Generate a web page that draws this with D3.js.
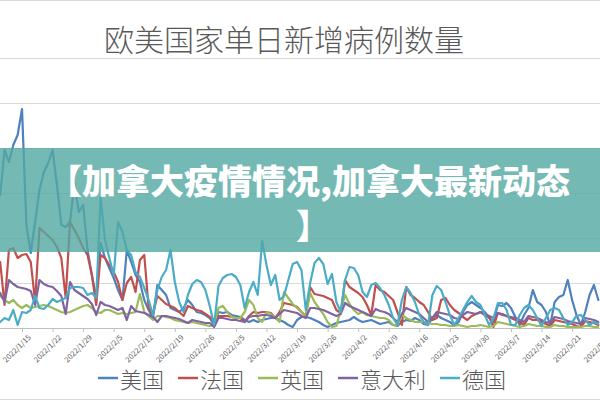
<!DOCTYPE html>
<html><head><meta charset="utf-8">
<script src="https://cdn.jsdelivr.net/npm/d3@7"></script>
<style>html,body{margin:0;padding:0;background:#fff;} svg{display:block;}</style>
</head><body>
<svg id="chart" width="600" height="400"></svg>
<script>
const chartTitle = "欧美国家单日新增病例数量";
const bannerLines = ["【加拿大疫情情况,加拿大最新动态", "】"];
const seriesNames = ["美国", "法国", "英国", "意大利", "德国"];
const seriesColors = ["#4F81BD", "#C0504D", "#9BBB59", "#8064A2", "#4BACC6"];
const startDate = "2022-01-10";
const tickLabels = ["2022/1/15","2022/1/22","2022/1/29","2022/2/5","2022/2/12","2022/2/19","2022/2/26","2022/3/5","2022/3/12","2022/3/19","2022/3/26","2022/4/2","2022/4/9","2022/4/16","2022/4/23","2022/4/30","2022/5/7","2022/5/14","2022/5/21","2022/5/28"];
const yTickValues = [0, 225, 450, 675, 900, 1125, 1350];

// daily new cases (thousands)
const usValues = [665,890,830,915,965,1095,515,375,530,690,780,825,890,715,515,505,530,725,580,615,390,265,150,425,350,300,250,190,140,390,330,265,230,140,90,50,215,190,165,100,90,80,100,140,115,80,75,65,50,15,80,75,80,65,60,55,40,30,40,30,40,45,50,50,40,30,15,5,40,55,55,50,40,30,15,5,15,25,30,35,40,55,40,30,35,40,30,20,25,30,15,10,30,40,35,50,40,20,15,50,65,50,40,30,15,30,80,115,130,115,100,80,50,30,115,110,125,100,55,15,65,100,190,130,115,80,15,130,155,165,240,140,65,15,80,165,215,140];
const franceValues = [330,115,390,400,350,365,370,330,130,500,480,460,440,405,350,150,530,490,450,400,365,265,115,365,350,315,280,230,140,225,255,180,340,365,100,70,160,140,120,110,100,80,60,110,100,90,85,70,55,30,60,60,60,55,50,50,30,60,80,75,80,80,75,50,80,125,120,115,105,80,60,205,170,165,160,150,140,90,75,240,205,190,175,155,115,65,215,190,180,160,140,80,15,205,165,150,130,115,80,40,50,140,150,115,90,75,55,40,60,70,80,65,55,5,75,70,60,50,40,30,15,50,40,40,30,20,10,40,35,30,25,20,10,5,35,30,25,15];
const ukValues = [160,140,125,140,115,100,115,100,105,110,115,110,100,90,80,75,80,90,100,110,115,100,80,75,90,90,80,70,75,70,75,80,170,80,60,40,60,60,55,50,40,35,30,25,30,25,20,15,10,15,100,110,80,55,50,50,80,140,115,50,30,80,70,50,30,180,150,120,100,80,60,175,130,100,70,30,5,10,90,165,120,90,70,80,65,60,55,50,50,40,15,15,65,50,40,30,30,30,25,20,20,15,15,10,10,15,10,5,10,10,15,10,5,10,30,25,20,15,10,5,10,20,15,10,10,5,5,15,10,10,5,5,5,5,10,10,5,5];
const italyValues = [175,130,240,220,205,200,195,185,115,240,220,210,205,185,160,70,230,190,175,160,145,120,65,130,115,110,100,90,100,40,110,85,80,75,65,55,30,60,60,55,50,45,35,25,40,35,30,25,25,5,50,50,45,40,40,35,30,55,60,60,65,65,60,50,70,90,85,80,75,60,50,100,100,95,90,80,70,60,70,125,110,100,90,80,70,60,95,85,80,70,50,30,70,100,90,80,70,50,30,50,80,75,70,65,50,45,65,80,75,70,80,70,60,50,75,65,60,55,50,40,30,60,55,50,40,30,25,55,50,45,35,30,25,20,50,45,40,30];
const germanyValues = [30,50,40,90,15,80,75,90,160,100,95,115,145,130,140,150,200,205,205,200,165,175,150,655,440,350,265,530,480,390,365,280,255,200,140,65,190,255,290,390,230,130,80,165,220,240,230,190,110,15,210,250,265,270,255,215,100,180,230,165,435,315,215,265,140,160,240,320,330,290,90,225,325,350,320,220,270,130,80,240,305,300,265,180,155,215,225,200,165,115,50,15,140,205,175,130,65,30,15,165,210,190,130,65,15,50,90,130,160,130,115,65,15,50,125,125,90,15,15,65,100,115,90,50,10,50,90,100,90,50,15,30,60,65,40,15,30,20];

const seriesValues = [usValues, franceValues, ukValues, italyValues, germanyValues];

const W = 600, H = 400;
const svg = d3.select("#chart");
const FONT = "'Noto Sans CJK SC', 'Noto Sans', sans-serif";
const gray = "#595959";

const parse = d3.timeParse("%Y-%m-%d");
const d0 = parse(startDate);
const nDays = usValues.length;
const dates = d3.range(nDays).map(i => d3.timeDay.offset(d0, i));
const tickDates = tickLabels.map(s => d3.timeParse("%Y/%m/%d")(s));

const x = d3.scaleTime().domain([dates[0], dates[nDays - 1]]).range([0.2, 598.3]);
const y = d3.scaleLinear().domain([0, 1350]).range([328, 58]);

// frame lines
svg.append("line").attr("x1", 0).attr("x2", W).attr("y1", 0.5).attr("y2", 0.5).attr("stroke", "#d9d9d9");
svg.append("line").attr("x1", 0).attr("x2", W).attr("y1", 399.5).attr("y2", 399.5).attr("stroke", "#d9d9d9");

// gridlines
const grid = svg.append("g")
  .call(d3.axisLeft(y).tickValues(yTickValues.slice(1)).tickSize(-W).tickFormat(""));
grid.select(".domain").remove();
grid.selectAll(".tick line").attr("stroke", "#d9d9d9").attr("stroke-width", 1);

// x axis
const xAxis = svg.append("g").attr("transform", `translate(0,${y(0)})`)
  .call(d3.axisBottom(x).tickValues(tickDates).tickSize(4).tickFormat((d, i) => tickLabels[i]));
xAxis.select(".domain").attr("stroke", "#bfbfbf").attr("d", `M0,0.5H${W}`);
xAxis.selectAll(".tick line").attr("stroke", "#bfbfbf");
xAxis.selectAll(".tick text")
  .attr("x", 0).attr("y", 0).attr("dy", "0.35em")
  .attr("transform", "translate(7,8) rotate(-45)")
  .style("text-anchor", "end")
  .style("font-family", FONT).style("font-size", "7.6px").attr("fill", gray);

// lines
const line = d3.line().x((d, i) => x(dates[i])).y(d => y(d)).curve(d3.curveLinear);
const linesG = svg.append("g");
seriesValues.forEach((vals, k) => {
  linesG.append("path").datum(vals)
    .attr("d", line)
    .attr("fill", "none")
    .attr("stroke", seriesColors[k])
    .attr("stroke-width", 2.2)
    .attr("stroke-linejoin", "round")
    .attr("stroke-linecap", "round");
});

// title
svg.append("text").attr("x", 284).attr("y", 38)
  .attr("text-anchor", "middle").attr("dominant-baseline", "central")
  .style("font-family", FONT).style("font-weight", 300).style("font-size", "30px")
  .attr("fill", gray).text(chartTitle);

// legend
const legendFont = 22;
const legend = svg.append("g");
let lx = 98;
seriesNames.forEach((name, k) => {
  const g = legend.append("g").attr("transform", `translate(${lx},378)`);
  g.append("line").attr("x1", 0).attr("x2", 20).attr("y1", 0).attr("y2", 0)
    .attr("stroke", seriesColors[k]).attr("stroke-width", 2.5);
  g.append("text").attr("x", 22).attr("y", 0).attr("dominant-baseline", "central")
    .style("font-family", FONT).style("font-weight", 300).style("font-size", legendFont + "px")
    .attr("fill", gray).text(name);
  lx += 22 + name.length * legendFont + 14;
});

// banner overlay
svg.append("rect").attr("x", 0).attr("y", 148).attr("width", W).attr("height", 104)
  .attr("fill", "rgb(82,168,163)").attr("fill-opacity", 0.8);
svg.append("text").attr("x", 309).attr("y", 179)
  .attr("text-anchor", "middle").attr("dominant-baseline", "central")
  .style("font-family", FONT).style("font-weight", 900).style("font-size", "34px")
  .attr("fill", "#fff").text(bannerLines[0]);
svg.append("text").attr("x", 313).attr("y", 224)
  .attr("text-anchor", "middle").attr("dominant-baseline", "central")
  .style("font-family", FONT).style("font-weight", 900).style("font-size", "34px")
  .attr("fill", "#fff").text(bannerLines[1]);
</script>
</body></html>
